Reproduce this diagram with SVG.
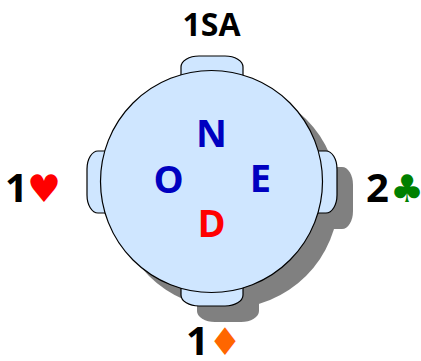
<svg xmlns="http://www.w3.org/2000/svg" width="421" height="361" viewBox="0 0 421 361">
<style>
.shadow{fill:#808080;stroke:none}
.chair,.table{fill:#cfe6ff;stroke:#000;stroke-width:1.2}
.seat{font-family:"Open Sans","Liberation Sans",sans-serif;font-weight:bold;font-size:38px;text-anchor:middle}
.blue{fill:#0000c0}
.lbl{font-family:"Open Sans","Liberation Sans",sans-serif;font-weight:bold;font-size:40px;fill:#000}
.suit{font-family:"DejaVu Sans",sans-serif;font-size:38px}
</style>
<g id="shadow">
<rect class="shadow" x="197" y="282" width="62" height="40" rx="18" ry="11"/>
<rect class="shadow" x="313" y="167" width="40" height="62" rx="11" ry="18"/>
<circle class="shadow" cx="227.5" cy="197.5" r="111"/>
</g>
<g id="chair-north"><rect class="chair" x="181" y="56" width="62" height="40" rx="18" ry="11"/></g>
<g id="chair-south"><rect class="chair" x="181" y="266" width="62" height="40" rx="18" ry="11"/></g>
<g id="chair-west"><rect class="chair" x="87" y="151" width="40" height="62" rx="11" ry="18"/></g>
<g id="chair-east"><rect class="chair" x="297" y="151" width="40" height="62" rx="11" ry="18"/></g>
<g id="table">
<circle class="table" cx="211.5" cy="181.5" r="111"/>
<text class="seat blue" x="211.5" y="147">N</text>
<text class="seat blue" x="168.5" y="193">O</text>
<text class="seat blue" x="260.5" y="192">E</text>
<text class="seat" x="211.5" y="237" fill="#ff0000">D</text>
</g>
<g id="bid-north"><text class="lbl" x="211.5" y="36" text-anchor="middle" style="font-size:32px">1SA</text></g>
<g id="bid-west"><text class="lbl" x="5" y="202">1<tspan class="suit" x="27" fill="#ff0000">♥</tspan></text></g>
<g id="bid-east"><text class="lbl" x="366" y="202">2<tspan class="suit" x="390" fill="#008000">♣</tspan></text></g>
<g id="bid-south"><text class="lbl" x="186" y="355">1<tspan class="suit" x="208" fill="#ff6600">♦</tspan></text></g>
<g id="connectors"/>
</svg>
